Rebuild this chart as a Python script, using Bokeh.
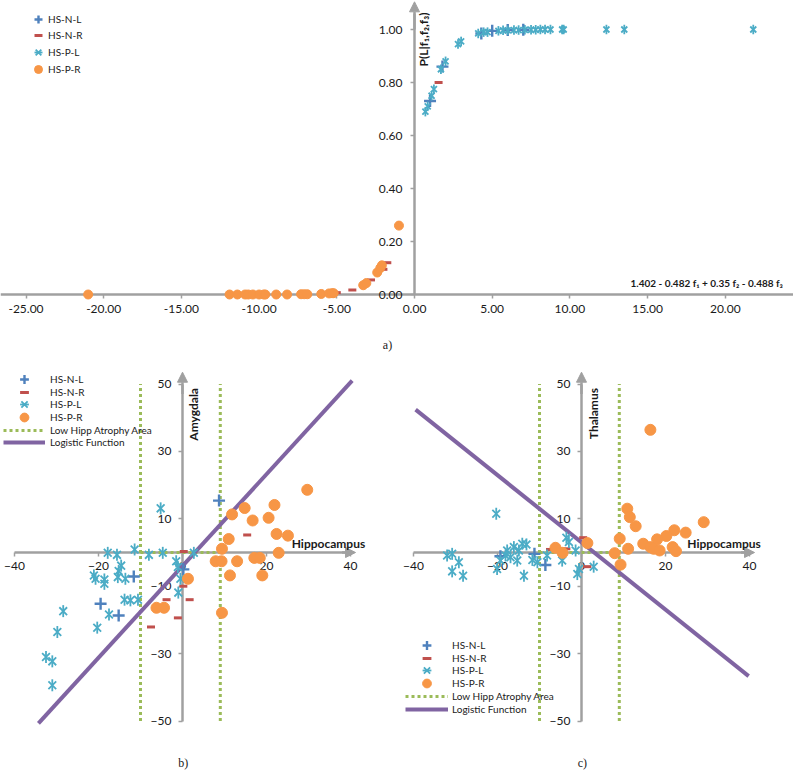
import math
from bokeh.plotting import figure
from bokeh.models import (Range1d, FixedTicker, NumeralTickFormatter, Arrow, NormalHead,
                          Label, Legend, LegendItem, ColumnDataSource)
from bokeh.layouts import column, row
from bokeh.embed import file_html
from bokeh.resources import INLINE

# ---------------- data: panel a) ----------------
a_hsnl_x = [1.0, 1.8, 4.3, 5.0, 6.0, 7.0]
a_hsnl_y = [0.73, 0.86, 0.985, 0.995, 0.998, 0.999]
a_hsnr_x = [-5.0, -4.0, -2.8, -2.0, -1.75, 1.55]
a_hsnr_y = [0.007, 0.017, 0.055, 0.095, 0.12, 0.80]
a_hspl_x = [0.7, 0.85, 1.1, 1.25, 1.7, 2.0, 2.8, 3.0, 4.1, 4.45, 4.7, 5.4, 5.7, 6.0, 6.4, 6.7,
            7.1, 7.5, 7.8, 8.1, 8.4, 8.75, 9.5, 9.6, 12.35, 13.5, 21.8]
a_hspl_y = [0.69, 0.71, 0.75, 0.775, 0.85, 0.88, 0.945, 0.955, 0.985, 0.99, 0.99, 0.995, 0.997,
            0.997, 0.998, 0.998, 0.999, 0.999, 0.999, 1.0, 1.0, 1.0, 1.0, 1.0, 1.0, 1.0, 1.0]
a_hspr_x = [-21.0, -11.9, -11.4, -10.9, -10.7, -10.4, -10.0, -9.7, -9.6, -8.9, -8.2, -7.3, -7.1,
            -6.9, -6.0, -5.5, -5.3, -5.2, -3.3, -3.1, -2.4, -2.2, -2.1, -1.0]
a_hspr_y = [0.0, 0.0, 0.0, 0.0, 0.0, 0.0, 0.0, 0.0, 0.0, 0.0, 0.0, 0.001, 0.001, 0.001, 0.002,
            0.004, 0.005, 0.005, 0.035, 0.043, 0.083, 0.10, 0.11, 0.26]
a_xticks = [-25, -20, -15, -10, -5, 0, 5, 10, 15, 20, 25]
a_yticks = [0.0, 0.2, 0.4, 0.6, 0.8, 1.0]
a_ylabel = "P(L|f\u2081,f\u2082,f\u2083)"
a_formula = "1.402 - 0.482 f\u2081 + 0.35 f\u2082 - 0.488 f\u2083"

# ---------------- data: panel b) ----------------
b_hsnl_x = [8.7, -11.6, -19.5, -15.2, 0.2]
b_hsnl_y = [15.4, -7.1, -15.2, -18.7, -5.0]
b_hsnr_x = [15.4, 0.3, 0.2, -3.8, 1.7, -1.1, -7.5]
b_hsnr_y = [5.2, 0.3, -10.0, -14.0, -14.0, -19.4, -22.1]
b_hspl_x = [-5.2, -11.4, -17.8, -15.6, -8.0, -4.7, 2.7, -1.5, -1.1, -14.6, -15.2, -20.7, -18.6,
            -15.4, -13.6, -18.6, -21.1, -0.5, -1.0, -13.8, -12.4, -10.6, -28.4, -17.5, -20.3,
            -29.8, -32.5, -31.0, -31.0]
b_hspl_y = [13.1, 0.9, -0.1, -0.7, -0.7, -0.1, -0.1, -2.6, -4.3, -3.9, -5.5, -7.8, -8.0, -7.3,
            -7.8, -9.3, -6.8, -7.8, -11.9, -14.0, -14.2, -14.0, -17.4, -18.4, -22.3, -23.6,
            -31.0, -32.3, -39.4]
b_hspr_x = [29.7, 21.9, 14.8, 11.8, 16.7, 20.5, 11.0, 22.4, 25.1, 9.4, 22.9, 7.9, 9.3, 13.0,
            17.1, 18.4, 11.3, 19.0, 1.3, -6.2, -4.4, 9.4]
b_hspr_y = [18.6, 14.1, 13.2, 11.3, 9.5, 10.3, 4.0, 5.5, 5.0, 1.1, -0.1, -2.6, -2.6, -2.6, -1.6,
            -1.6, -6.8, -6.8, -7.8, -16.4, -16.4, -17.9]
b_logit_x = [-34.3, 40.4]
b_logit_y = [-50.7, 51.0]

# ---------------- data: panel c) ----------------
c_hsnl_x = [-8.6, -11.2, -19.3]
c_hsnl_y = [-3.7, -0.4, -1.1]
c_hsnr_x = [0.4, -7.5, -3.6, 1.4]
c_hsnr_y = [4.4, 0.9, 1.1, -4.2]
c_hspl_x = [-20.3, -32.0, -30.8, -29.2, -30.8, -28.2, -20.1, -19.3, -17.7, -18.1, -16.1, -14.9,
            -14.1, -13.1, -15.3, -13.7, -16.9, -11.7, -10.5, -8.2, -4.6, -3.6, -3.0, -1.4, -1.0,
            -0.6, 2.9]
c_hspl_y = [11.5, -0.9, -0.4, -2.9, -5.6, -6.9, -4.9, -2.4, 0.6, -0.9, 1.6, 0.6, 2.6, 2.4, -2.4,
            -6.9, -1.4, -2.2, -2.9, -0.9, -2.4, 4.4, 3.1, 0.6, -6.4, -4.9, -4.2]
c_hspr_x = [16.4, 10.9, 11.5, 12.9, 29.1, 24.8, 22.1, 20.2, 18.0, 14.7, 9.1, 11.1, 16.4, 17.2,
            18.6, 21.7, 22.5, 7.9, 9.3, 1.4, -6.2, -4.5]
c_hspr_y = [36.4, 13.0, 10.5, 7.8, 9.0, 5.9, 6.6, 4.9, 3.9, 2.6, 4.1, 1.1, 1.6, 1.1, 0.6, 1.6,
            0.4, -0.2, -3.6, 2.8, 1.4, -0.1]
c_logit_x = [-39.5, 39.8]
c_logit_y = [42.4, -36.7]

# shared for b) and c)
low_hipp_bounds = [-10, 9]
low_hipp_yspan = [-50, 50]
bc_xticks = [-40, -20, 0, 20, 40]
bc_yticks = [-50, -30, -10, 10, 30, 50]
bc_xbounds = [-40, 40]

series_names = ["HS-N-L", "HS-N-R", "HS-P-L", "HS-P-R"]
line_names = ["Low Hipp Atrophy Area", "Logistic Function"]

# ---------------- styles ----------------
BLUE = "#4F81BD"
RED = "#C0504D"
CYAN = "#4BACC6"
ORANGE = "#F79646"
GREEN = "#9BBB59"
PURPLE = "#8064A2"
AX = "#A0A0A0"
TXT = "#1a1a1a"
FONT = "Lato"


def make_fig(w, h, xr, yr):
    p = figure(width=w, height=h, x_range=Range1d(*xr), y_range=Range1d(*yr),
               output_backend="svg", toolbar_location=None, min_border=0,
               outline_line_color=None, border_fill_color="white",
               background_fill_color="white")
    p.grid.visible = False
    p.xaxis.fixed_location = 0
    p.yaxis.fixed_location = 0
    p.axis.axis_line_color = AX
    p.axis.axis_line_width = 2.5
    p.axis.major_tick_line_color = AX
    p.axis.major_tick_line_width = 1.5
    p.axis.major_tick_in = 0
    p.axis.major_tick_out = 4
    p.axis.minor_tick_line_color = None
    p.axis.major_label_text_font = FONT
    p.axis.major_label_text_font_size = "12px"
    p.axis.major_label_text_color = TXT
    return p


def add_points(p, xs, ys, big):
    rs = []
    s = ColumnDataSource(dict(x=xs[0], y=ys[0]))
    rs.append([p.scatter("x", "y", source=s, marker="cross", size=12, line_color=BLUE,
                         line_width=2.4, level="annotation")])
    s = ColumnDataSource(dict(x=xs[1], y=ys[1]))
    rs.append([p.scatter("x", "y", source=s, marker="dash", size=8, line_color=RED,
                         line_width=3, level="annotation")])
    s = ColumnDataSource(dict(x=xs[2], y=ys[2]))
    sz = 11 if big else 8.5
    r1 = p.scatter("x", "y", source=s, marker="x", size=sz, line_color=CYAN, line_width=1.8,
                   level="annotation")
    r2 = p.scatter("x", "y", source=s, marker="dash", size=sz + 1, angle=math.pi / 2,
                   line_color=CYAN, line_width=1.8, level="annotation")
    rs.append([r1, r2])
    s = ColumnDataSource(dict(x=xs[3], y=ys[3]))
    rs.append([p.scatter("x", "y", source=s, marker="circle", size=11 if big else 9,
                         fill_color=ORANGE, line_color=ORANGE, level="annotation")])
    return rs


def add_legends(p, H, names, renderer_groups, vx, row_centres, gw, gh, standoff):
    # one single-entry legend per row, so the row pitch can be smaller than the glyph box
    for name, rg, yc in zip(names, renderer_groups, row_centres):
        lg = Legend(items=[LegendItem(label=name, renderers=rg)],
                    location=(vx, int(round(H - (yc + gh / 2)))), orientation="vertical",
                    background_fill_alpha=0, border_line_color=None, padding=0, margin=0,
                    spacing=0, glyph_width=gw, glyph_height=gh, label_height=gh,
                    label_standoff=standoff, label_text_font=FONT,
                    label_text_font_size="10px", label_text_color=TXT)
        p.add_layout(lg)


# ================= panel a =================
A_W, A_H = 793, 356
a_x0px, a_pxu = 414, 15.54      # px of x=0 inside figure, px per unit
a_y0px, a_pyu = 294, 265.0
a_xr = ((0 - a_x0px) / a_pxu, (A_W - a_x0px) / a_pxu)
a_yr = ((a_y0px - A_H) / a_pyu, a_y0px / a_pyu)
pa = make_fig(A_W, A_H, a_xr, a_yr)
pa.xaxis.ticker = FixedTicker(ticks=a_xticks)
pa.yaxis.ticker = FixedTicker(ticks=a_yticks)
pa.xaxis.formatter = NumeralTickFormatter(format="0.00")
pa.yaxis.formatter = NumeralTickFormatter(format="0.00")
pa.xaxis.major_label_standoff = 6
pa.yaxis.major_label_standoff = 8
pa.yaxis.bounds = (0, 1.06)
pa.add_layout(Arrow(end=NormalHead(size=10, fill_color=AX, line_color=AX),
                    x_start=0, y_start=1.0, x_end=0, y_end=a_yr[1] - 0.005,
                    line_color=AX, line_width=2.5))
ra = add_points(pa, [a_hsnl_x, a_hsnr_x, a_hspl_x, a_hspr_x],
                [a_hsnl_y, a_hsnr_y, a_hspl_y, a_hspr_y], big=False)
pa.add_layout(Label(x=0.58, y=1.064, text=a_ylabel, angle=math.pi / 2, text_align="right",
                    text_baseline="middle", text_font=FONT, text_font_style="bold",
                    text_font_size="12px", text_color=TXT))
pa.add_layout(Label(x=13.9, y=0.042, text=a_formula, text_align="left",
                    text_baseline="middle", text_font=FONT, text_font_style="bold",
                    text_font_size="10px", text_color=TXT))
pa.add_layout(Label(x=-1.74, y=-0.192, text="a)", text_align="center", text_baseline="middle",
                    text_font="Liberation Serif", text_font_size="12px", text_color=TXT))
add_legends(pa, A_H, series_names, ra, 28, [19, 35, 52, 69], 20, 20, -3)

# ================= panels b, c =================
BC_H = 771 - A_H
bc_y0px, bc_pyu = 552 - A_H, 3.37
bc_yr = ((bc_y0px - BC_H) / bc_pyu, bc_y0px / bc_pyu)


def make_bc(W, x0px, pxu, xs, ys, logit_x, logit_y, ylab, ylab_x, hip_x, vx, rows, gw, stand,
            tag):
    xr = ((0 - x0px) / pxu, (W - x0px) / pxu)
    p = make_fig(W, BC_H, xr, bc_yr)
    p.xaxis.ticker = FixedTicker(ticks=bc_xticks)
    p.yaxis.ticker = FixedTicker(ticks=bc_yticks)
    p.xaxis.bounds = tuple(bc_xbounds)
    p.yaxis.bounds = tuple(low_hipp_yspan)
    p.xaxis.major_label_standoff = 5
    p.yaxis.major_label_standoff = 7
    p.add_layout(Arrow(end=NormalHead(size=10, fill_color=AX, line_color=AX),
                       x_start=bc_xbounds[1] - 2, y_start=0, x_end=bc_xbounds[1] + 1.2, y_end=0,
                       line_color=AX, line_width=2.5))
    p.add_layout(Arrow(end=NormalHead(size=10, fill_color=AX, line_color=AX),
                       x_start=0, y_start=low_hipp_yspan[1] - 3, x_end=0,
                       y_end=low_hipp_yspan[1] + 3.5,
                       line_color=AX, line_width=2.5))
    lo, hi = low_hipp_bounds
    y0, y1 = low_hipp_yspan
    rg = p.multi_line(xs=[[lo, lo], [lo, hi], [hi, hi]], ys=[[y0, y1], [0, 0], [y0, y1]],
                      line_color=GREEN, line_width=3, line_dash="3 3", level="annotation")
    rl = p.line(logit_x, logit_y, line_color=PURPLE, line_width=4, level="annotation")
    rs = add_points(p, xs, ys, big=True)
    p.add_layout(Label(x=ylab_x, y=48.8, text=ylab, angle=math.pi / 2, text_align="right",
                       text_baseline="middle", text_font=FONT, text_font_style="bold",
                       text_font_size="12px", text_color=TXT))
    p.add_layout(Label(x=hip_x, y=0.5, text="Hippocampus", text_align="left",
                       text_baseline="bottom", text_font=FONT, text_font_style="bold",
                       text_font_size="12px", text_color=TXT))
    p.add_layout(Label(x=0.2, y=-62.4, text=tag, text_align="center", text_baseline="middle",
                       text_font="Liberation Serif", text_font_size="12px", text_color=TXT))
    add_legends(p, BC_H, series_names + line_names, rs + [[rg], [rl]], vx, rows, gw, 22, stand)
    return p


pb = make_bc(400, 182, 4.2, [b_hsnl_x, b_hsnr_x, b_hspl_x, b_hspr_x],
             [b_hsnl_y, b_hsnr_y, b_hspl_y, b_hspr_y], b_logit_x, b_logit_y,
             "Amygdala", 2.6, 26.0, 3, [23, 36, 48, 61, 74, 86], 42, 5, "b)")
pc = make_bc(393, 181, 4.2, [c_hsnl_x, c_hsnr_x, c_hspl_x, c_hspr_x],
             [c_hsnl_y, c_hsnr_y, c_hspl_y, c_hspr_y], c_logit_x, c_logit_y,
             "Thalamus", 2.9, 25.2, 5, [289, 302, 314, 327, 340, 353], 43, 4, "c)")

layout = column(pa, row(pb, pc, spacing=0), spacing=0)
open("out.html", "w").write(file_html(layout, INLINE))
